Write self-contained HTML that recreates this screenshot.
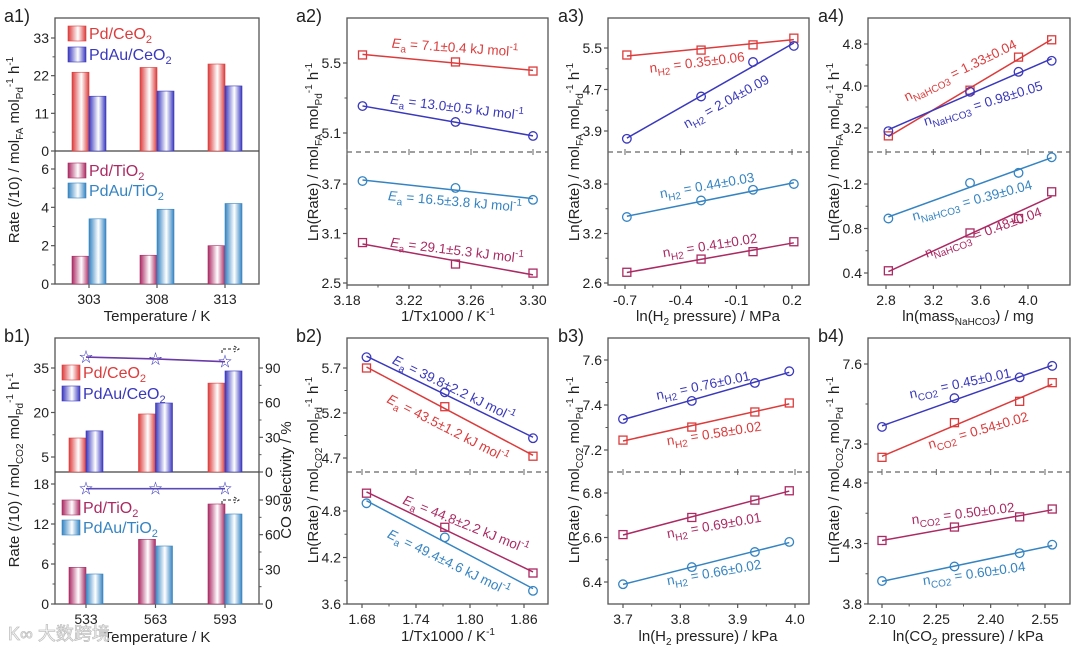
<!DOCTYPE html>
<html><head><meta charset="utf-8">
<style>
html,body{margin:0;padding:0;background:#fff;}
svg{display:block;font-family:"Liberation Sans","Noto Sans CJK SC",sans-serif;}
</style></head>
<body>
<svg id="fig" width="1080" height="650" viewBox="0 0 1080 650"></svg>
<script>
// ---------- data ----------
const a1Temps=['303','308','313'];
const a1PdCe=[23.0,24.4,25.4];
const a1PdAuCe=[16.0,17.5,19.0];
const a1PdTi=[1.45,1.5,2.0];
const a1PdAuTi=[3.4,3.9,4.2];
const b1Temps=['533','563','593'];
const b1PdCe=[11.4,19.5,29.9];
const b1PdAuCe=[13.8,23.2,34.0];
const b1PdTi=[5.5,9.7,15.0];
const b1PdAuTi=[4.5,8.7,13.5];
const b1SelCe=[99.5,97.8,95.5];
const b1SelTi=[99.8,99.8,99.8];

const a2X=[3.19,3.25,3.30];
const a2Red=[5.546,5.506,5.454];
const a2Blue=[5.254,5.163,5.083];
const a2Cyan=[3.736,3.652,3.508];
const a2Purple=[2.99,2.73,2.62];
const a3X=[-0.69,-0.29,-0.01,0.21];
const a3Red=[5.365,5.46,5.56,5.69];
const a3Blue=[3.75,4.565,5.23,5.54];
const a3Cyan=[3.40,3.60,3.73,3.80];
const a3Purple=[2.73,2.89,2.98,3.10];
const a4X=[2.82,3.51,3.92,4.20];
const a4Red=[3.05,3.92,4.55,4.88];
const a4Blue=[3.14,3.89,4.27,4.48];
const a4Cyan=[0.89,1.21,1.30,1.44];
const a4Purple=[0.42,0.76,0.89,1.13];
const b2X=[1.685,1.772,1.870];
const b2Blue=[5.82,5.43,4.92];
const b2Red=[5.70,5.27,4.72];
const b2Purple=[5.03,4.59,4.00];
const b2Cyan=[4.90,4.46,3.77];
const b3X=[3.70,3.82,3.93,3.99];
const b3Blue=[7.338,7.418,7.498,7.55];
const b3Red=[7.244,7.302,7.369,7.409];
const b3Purple=[6.613,6.69,6.768,6.81];
const b3Cyan=[6.39,6.467,6.535,6.58];
const b4X=[2.10,2.30,2.48,2.57];
const b4Blue=[7.364,7.472,7.55,7.593];
const b4Red=[7.25,7.38,7.46,7.53];
const b4Purple=[4.325,4.436,4.52,4.585];
const b4Cyan=[3.99,4.11,4.22,4.29];

const a2XTicks=[3.18,3.22,3.26,3.30], a2TopTicks=[5.1,5.5], a2BotTicks=[2.5,3.1,3.7];
const a3XTicks=[-0.7,-0.4,-0.1,0.2], a3TopTicks=[3.9,4.7,5.5], a3BotTicks=[2.6,3.2,3.8];
const a4XTicks=[2.8,3.2,3.6,4.0], a4TopTicks=[3.2,4.0,4.8], a4BotTicks=[0.4,0.8,1.2];
const b2XTicks=[1.68,1.74,1.80,1.86], b2TopTicks=[4.7,5.2,5.7], b2BotTicks=[3.6,4.2,4.8];
const b3XTicks=[3.7,3.8,3.9,4.0], b3TopTicks=[7.2,7.4,7.6], b3BotTicks=[6.4,6.6,6.8];
const b4XTicks=[2.10,2.25,2.40,2.55], b4TopTicks=[7.3,7.6], b4BotTicks=[3.8,4.3,4.8];

const RED='#dc3b3b',BLUE='#3a38bd',PURP='#ab2a63',CYAN='#3584c2';
const NS='http://www.w3.org/2000/svg';
const svg=document.getElementById('fig');
function mk(tag,attrs,parent){const e=document.createElementNS(NS,tag);for(const k in attrs)e.setAttribute(k,attrs[k]);(parent||svg).appendChild(e);return e;}
function lin(v0,p0,v1,p1){return v=>p0+(v-v0)*(p1-p0)/(v1-v0);}
function fmt(v,d){return (v<0?'-':'')+Math.abs(v).toFixed(d);}

const defs=mk('defs',{});
[['gRed',RED],['gBlue',BLUE],['gPurp',PURP],['gCyan',CYAN]].forEach(([id,c])=>{
  const g=mk('linearGradient',{id:id,x1:0,y1:0,x2:1,y2:0},defs);
  mk('stop',{offset:0,'stop-color':c},g);
  mk('stop',{offset:0.55,'stop-color':'#ffffff'},g);
  mk('stop',{offset:1,'stop-color':c},g);
});

function txt(x,y,html,size,anchor,name,extra){
  const t=mk('text',Object.assign({x:x,y:y,'font-size':size,'text-anchor':anchor||'start',fill:'#222'},extra||{}));
  t.innerHTML=html;
  
  
  return t;
}
function frame(p,name,dashed){
  const r=mk('rect',{x:p.l,y:p.t,width:p.r-p.l,height:p.b-p.t,fill:'none',stroke:'#555','stroke-width':1.3});
  
  
  const d=mk('line',{x1:p.l,x2:p.r,y1:p.div,y2:p.div,stroke:dashed?'#666':'#444','stroke-width':1.2,'stroke-dasharray':dashed?'5,4':'none'});
  
  
}
function yTicks(p,ticks,sc,dec,name,side){
  const x=side==='r'?p.r:p.l, dir=side==='r'?1:-1;
  ticks.forEach((v,i)=>{
    const y=sc(v);
    mk('line',{x1:x,x2:x+dir*4,y1:y,y2:y,stroke:'#555','stroke-width':1.2});
    if(i<ticks.length-1){const ym=sc((v+ticks[i+1])/2);mk('line',{x1:x,x2:x+dir*2.5,y1:ym,y2:ym,stroke:'#555','stroke-width':1});}
    txt(x+dir*6,y+5,fmt(v,dec),14,side==='r'?'start':'end',name+'-tick-label');
  });
}
function xTicks(p,ticks,sc,dec,name,base){
  ticks.forEach((v,i)=>{
    const x=sc(v);
    mk('line',{x1:x,x2:x,y1:p.b,y2:p.b+4,stroke:'#555','stroke-width':1.2});
    mk('line',{x1:x,x2:x,y1:p.div-3,y2:p.div+3,stroke:'#666','stroke-width':1});
    if(i<ticks.length-1){const xm=sc((v+ticks[i+1])/2);mk('line',{x1:xm,x2:xm,y1:p.b,y2:p.b+2.5,stroke:'#555','stroke-width':1});}
    txt(x,base,fmt(v,dec),14,'middle',name+'-x-tick-label');
  });
}
function series(xs,ys,sx,sy,color,marker,name){
  const n=xs.length;let mx=0,my=0;xs.forEach((x,i)=>{mx+=x;my+=ys[i];});mx/=n;my/=n;
  let sxy=0,sxx=0;xs.forEach((x,i)=>{sxy+=(x-mx)*(ys[i]-my);sxx+=(x-mx)*(x-mx);});
  const k=sxy/sxx,b=my-k*mx;const x0=xs[0],x1=xs[n-1];
  const l=mk('line',{x1:sx(x0),y1:sy(k*x0+b),x2:sx(x1),y2:sy(k*x1+b),stroke:color,'stroke-width':1.5});
  
  
  xs.forEach((x,i)=>{
    let m;
    if(marker==='s') m=mk('rect',{x:sx(x)-4,y:sy(ys[i])-4,width:8,height:8,fill:'none',stroke:color,'stroke-width':1.3});
    else m=mk('circle',{cx:sx(x),cy:sy(ys[i]),r:4.3,fill:'none',stroke:color,'stroke-width':1.3});
    
    
  });
}
function yTitle(x,cy,s1,name,pre){
  return txt(x,cy,`${pre||'Ln(Rate)'} / mol<tspan font-size="10" dy="4">${s1}</tspan><tspan dy="-4"> mol</tspan><tspan font-size="10" dy="4">Pd</tspan><tspan font-size="10" dy="-10">-1</tspan><tspan dy="6"> h</tspan><tspan font-size="10" dy="-6">-1</tspan>`,15,'middle',name,{transform:`rotate(-90 ${x} ${cy})`});
}
// x,y = visual centre of text
function ann(x,y,ang,html,color,name){
  txt(x,y+5,html,13.5,'middle',name,{fill:color,transform:`rotate(${ang} ${x} ${y})`});
}
const EA=(v)=>`<tspan font-style="italic">E</tspan><tspan font-size="10" dy="4">a</tspan><tspan dy="-4"> = ${v} kJ mol</tspan><tspan font-size="10" dy="-6">-1</tspan>`;
const NN=(s,v)=>`n<tspan font-size="10" dy="4">${s}</tspan><tspan dy="-4"> = ${v}</tspan>`;

function linePanel(cfg){
  const p=cfg.p;
  frame(p,cfg.name,true);
  yTicks(p,cfg.topTicks,cfg.syT,cfg.yDec,cfg.name+'-top-y');
  yTicks(p,cfg.botTicks,cfg.syB,cfg.yDec,cfg.name+'-bottom-y');
  xTicks(p,cfg.xTicks,cfg.sx,cfg.xDec,cfg.name,p.b+20);
  cfg.series.forEach(s=>series(cfg.x,s.y,cfg.sx,s.top?cfg.syT:cfg.syB,s.c,s.m,cfg.name+'-'+s.n));
}
const pA={t:18,b:285,div:152}, pB={t:338,b:604,div:472};
linePanel({name:'a2',p:Object.assign({l:347,r:548},pA),x:a2X,sx:lin(3.18,347,3.30,533),syT:lin(5.1,133,5.5,63),syB:lin(2.5,283,3.7,184),
  xTicks:a2XTicks,xDec:2,topTicks:a2TopTicks,botTicks:a2BotTicks,yDec:1,
  series:[{y:a2Red,top:1,c:RED,m:'s',n:'pd-ceo2'},{y:a2Blue,top:1,c:BLUE,m:'o',n:'pdau-ceo2'},{y:a2Cyan,c:CYAN,m:'o',n:'pdau-tio2'},{y:a2Purple,c:PURP,m:'s',n:'pd-tio2'}]});
linePanel({name:'a3',p:Object.assign({l:608,r:809},pA),x:a3X,sx:lin(-0.7,625,0.2,792),syT:lin(3.9,131,5.5,48),syB:lin(2.6,283,3.8,184),
  xTicks:a3XTicks,xDec:1,topTicks:a3TopTicks,botTicks:a3BotTicks,yDec:1,
  series:[{y:a3Red,top:1,c:RED,m:'s',n:'pd-ceo2'},{y:a3Blue,top:1,c:BLUE,m:'o',n:'pdau-ceo2'},{y:a3Cyan,c:CYAN,m:'o',n:'pdau-tio2'},{y:a3Purple,c:PURP,m:'s',n:'pd-tio2'}]});
linePanel({name:'a4',p:Object.assign({l:868,r:1070},pA),x:a4X,sx:lin(2.8,886,4.0,1028),syT:lin(3.2,128,4.8,44),syB:lin(0.4,273,1.2,184),
  xTicks:a4XTicks,xDec:1,topTicks:a4TopTicks,botTicks:a4BotTicks,yDec:1,
  series:[{y:a4Red,top:1,c:RED,m:'s',n:'pd-ceo2'},{y:a4Blue,top:1,c:BLUE,m:'o',n:'pdau-ceo2'},{y:a4Cyan,c:CYAN,m:'o',n:'pdau-tio2'},{y:a4Purple,c:PURP,m:'s',n:'pd-tio2'}]});
linePanel({name:'b2',p:Object.assign({l:347,r:548},pB),x:b2X,sx:lin(1.68,362,1.86,524),syT:lin(4.7,458,5.7,368),syB:lin(3.6,604,4.8,511),
  xTicks:b2XTicks,xDec:2,topTicks:b2TopTicks,botTicks:b2BotTicks,yDec:1,
  series:[{y:b2Red,top:1,c:RED,m:'s',n:'pd-ceo2'},{y:b2Blue,top:1,c:BLUE,m:'o',n:'pdau-ceo2'},{y:b2Cyan,c:CYAN,m:'o',n:'pdau-tio2'},{y:b2Purple,c:PURP,m:'s',n:'pd-tio2'}]});
linePanel({name:'b3',p:Object.assign({l:608,r:809},pB),x:b3X,sx:lin(3.7,623,4.0,795),syT:lin(7.2,450,7.6,360),syB:lin(6.4,582,6.8,493),
  xTicks:b3XTicks,xDec:1,topTicks:b3TopTicks,botTicks:b3BotTicks,yDec:1,
  series:[{y:b3Red,top:1,c:RED,m:'s',n:'pd-ceo2'},{y:b3Blue,top:1,c:BLUE,m:'o',n:'pdau-ceo2'},{y:b3Cyan,c:CYAN,m:'o',n:'pdau-tio2'},{y:b3Purple,c:PURP,m:'s',n:'pd-tio2'}]});
linePanel({name:'b4',p:Object.assign({l:868,r:1070},pB),x:b4X,sx:lin(2.10,882,2.55,1045),syT:lin(7.3,444,7.6,364),syB:lin(3.8,604,4.8,483),
  xTicks:b4XTicks,xDec:2,topTicks:b4TopTicks,botTicks:b4BotTicks,yDec:1,
  series:[{y:b4Red,top:1,c:RED,m:'s',n:'pd-ceo2'},{y:b4Blue,top:1,c:BLUE,m:'o',n:'pdau-ceo2'},{y:b4Cyan,c:CYAN,m:'o',n:'pdau-tio2'},{y:b4Purple,c:PURP,m:'s',n:'pd-tio2'}]});

// annotations (visual centres)
ann(455,47,4,EA('7.1±0.4'),RED,'a2-ea-pd-ceo2');
ann(457,107,7,EA('13.0±0.5'),BLUE,'a2-ea-pdau-ceo2');
ann(455,201,5,EA('16.5±3.8'),CYAN,'a2-ea-pdau-tio2');
ann(457,250,7,EA('29.1±5.3'),PURP,'a2-ea-pd-tio2');
ann(697,62,-7,NN('H2','0.35±0.06'),RED,'a3-n-pd-ceo2');
ann(726,101,-29,NN('H2','2.04±0.09'),BLUE,'a3-n-pdau-ceo2');
ann(707,185,-10,NN('H2','0.44±0.03'),CYAN,'a3-n-pdau-tio2');
ann(710,245,-9,NN('H2','0.41±0.02'),PURP,'a3-n-pd-tio2');
ann(960,70,-26,NN('NaHCO3','1.33±0.04'),RED,'a4-n-pd-ceo2');
ann(983,103,-17,NN('NaHCO3','0.98±0.05'),BLUE,'a4-n-pdau-ceo2');
ann(972,200,-15,NN('NaHCO3','0.39±0.04'),CYAN,'a4-n-pdau-tio2');
ann(983,232,-20,NN('NaHCO3','0.48±0.04'),PURP,'a4-n-pd-tio2');
ann(454,388,26,EA('39.8±2.2'),BLUE,'b2-ea-pdau-ceo2');
ann(448,428,27,EA('43.5±1.2'),RED,'b2-ea-pd-ceo2');
ann(466,524,22,EA('44.8±2.2'),PURP,'b2-ea-pd-tio2');
ann(449,562,26,EA('49.4±4.6'),CYAN,'b2-ea-pdau-tio2');
ann(703,385,-12,NN('H2','0.76±0.01'),BLUE,'b3-n-pdau-ceo2');
ann(714,433,-9,NN('H2','0.58±0.02'),RED,'b3-n-pd-ceo2');
ann(714,525,-10,NN('H2','0.69±0.01'),PURP,'b3-n-pd-tio2');
ann(714,572,-10,NN('H2','0.66±0.02'),CYAN,'b3-n-pdau-tio2');
ann(960,383,-12,NN('CO2','0.45±0.01'),BLUE,'b4-n-pdau-ceo2');
ann(978,430,-16,NN('CO2','0.54±0.02'),RED,'b4-n-pd-ceo2');
ann(963,513,-7,NN('CO2','0.50±0.02'),PURP,'b4-n-pd-tio2');
ann(974,573,-8,NN('CO2','0.60±0.04'),CYAN,'b4-n-pdau-tio2');

// ---------- bar panels ----------
function barPanel(cfg){
  const p=cfg.p;
  frame(p,cfg.name,false);
  yTicks(p,cfg.topTicks,cfg.syT,0,cfg.name+'-top-y');
  yTicks(p,cfg.botTicks,cfg.syB,0,cfg.name+'-bottom-y');
  cfg.cats.forEach((c,i)=>{
    const x=cfg.cx[0]+i*(cfg.cx[1]-cfg.cx[0])/(cfg.cats.length-1);
    mk('line',{x1:x,x2:x,y1:p.b,y2:p.b+4,stroke:'#555','stroke-width':1.2});
    txt(x,p.b+20,c,14,'middle',cfg.name+'-x-tick-label');
    const bars=[[cfg.v1[i],cfg.syT,'gRed',RED,-17,'pd-ceo2'],[cfg.v2[i],cfg.syT,'gBlue',BLUE,0,'pdau-ceo2'],
                [cfg.v3[i],cfg.syB,'gPurp',PURP,-17,'pd-tio2'],[cfg.v4[i],cfg.syB,'gCyan',CYAN,0,'pdau-tio2']];
    bars.forEach(([v,sy,g,col,off,n])=>{
      const y=sy(v),y0=sy===cfg.syT?p.div:p.b;
      const r=mk('rect',{x:x+off,y:y,width:17,height:y0-y,fill:`url(#${g})`,stroke:col,'stroke-width':0.6});
      
      
    });
  });
  cfg.legend.forEach(([y,g,col,label,n])=>{
    const r=mk('rect',{x:cfg.lx,y:y-7,width:18,height:15,fill:`url(#${g})`,stroke:col,'stroke-width':0.6});
    
    
    txt(cfg.lx+21,y+6,label,16,'start',cfg.name+'-legend-'+n,{fill:col});
  });
}
const CE='Pd/CeO<tspan font-size="11" dy="4">2</tspan>', ACE='PdAu/CeO<tspan font-size="11" dy="4">2</tspan>';
const TI='Pd/TiO<tspan font-size="11" dy="4">2</tspan>', ATI='PdAu/TiO<tspan font-size="11" dy="4">2</tspan>';
barPanel({name:'a1',p:{l:55,r:259,t:18,b:284,div:151},cats:a1Temps,cx:[89,225],
  syT:lin(0,151,33,38),syB:lin(0,284,6,169),topTicks:[0,11,22,33],botTicks:[0,2,4,6],
  v1:a1PdCe,v2:a1PdAuCe,v3:a1PdTi,v4:a1PdAuTi,lx:68,
  legend:[[33,'gRed',RED,CE,'pd-ceo2'],[54,'gBlue',BLUE,ACE,'pdau-ceo2'],[170,'gPurp',PURP,TI,'pd-tio2'],[190,'gCyan',CYAN,ATI,'pdau-tio2']]});
barPanel({name:'b1',p:{l:55,r:259,t:338,b:604,div:472},cats:b1Temps,cx:[86,225],
  syT:lin(5,457,35,368),syB:lin(0,604,18,484),topTicks:[5,20,35],botTicks:[0,6,12,18],
  v1:b1PdCe,v2:b1PdAuCe,v3:b1PdTi,v4:b1PdAuTi,lx:62,
  legend:[[372,'gRed',RED,CE,'pd-ceo2'],[393,'gBlue',BLUE,ACE,'pdau-ceo2'],[507,'gPurp',PURP,TI,'pd-tio2'],[527,'gCyan',CYAN,ATI,'pdau-tio2']]});
const pb1={l:55,r:259,t:338,b:604,div:472};
const selT=lin(0,472,90,368), selB=lin(0,604,90,500);
yTicks(pb1,[0,30,60,90],selT,0,'b1-right-top-y','r');
yTicks(pb1,[0,30,60,90],selB,0,'b1-right-bottom-y','r');
function selLine(vals,sy,col,name){
  const xs=vals.map((v,i)=>86+i*(225-86)/(vals.length-1));
  const pl=mk('polyline',{points:xs.map((x,i)=>x+','+sy(vals[i])).join(' '),fill:'none',stroke:col,'stroke-width':1.6});
  
  
  xs.forEach((x,i)=>{txt(x,sy(vals[i])+5,'☆',14,'middle',name+'-star',{fill:BLUE});});
}
selLine(b1SelCe,selT,'#6a3aa8','b1-co-selectivity-ceo2');
selLine(b1SelTi,selB,'#5a4ab8','b1-co-selectivity-tio2');
[[349,'b1-arrow-top'],[500,'b1-arrow-bottom']].forEach(([y,n])=>{
  const a=mk('path',{d:`M222 ${y+4} L222 ${y} L238 ${y} M234 ${y-3} L239 ${y} L234 ${y+3}`,fill:'none',stroke:'#222','stroke-width':1,'stroke-dasharray':'3,2'});
  
  
});

// ---------- titles ----------
yTitle(19,150,'FA','a1-y-axis-title','Rate (/10)');
yTitle(19,470,'CO2','b1-y-axis-title','Rate (/10)');
txt(291,480,'CO selectivity / %',15,'middle','b1-right-y-axis-title',{transform:'rotate(-90 291 480)'});
yTitle(318,152,'FA','a2-y-axis-title');
yTitle(579,152,'FA','a3-y-axis-title');
yTitle(839,152,'FA','a4-y-axis-title');
yTitle(318,470,'CO2','b2-y-axis-title');
yTitle(579,470,'CO2','b3-y-axis-title');
yTitle(839,470,'CO2','b4-y-axis-title');
txt(157,321,'Temperature / K',15,'middle','a1-x-axis-title');
txt(157,642,'Temperature / K',15,'middle','b1-x-axis-title');
txt(448,321,'1/Tx1000 / K<tspan font-size="10" dy="-6">-1</tspan>',15,'middle','a2-x-axis-title');
txt(448,641,'1/Tx1000 / K<tspan font-size="10" dy="-6">-1</tspan>',15,'middle','b2-x-axis-title');
txt(708,321,'ln(H<tspan font-size="10" dy="4">2</tspan><tspan dy="-4"> pressure) / MPa</tspan>',15,'middle','a3-x-axis-title');
txt(708,641,'ln(H<tspan font-size="10" dy="4">2</tspan><tspan dy="-4"> pressure) / kPa</tspan>',15,'middle','b3-x-axis-title');
txt(968,321,'ln(mass<tspan font-size="10" dy="4">NaHCO3</tspan><tspan dy="-4">) / mg</tspan>',15,'middle','a4-x-axis-title');
txt(968,641,'ln(CO<tspan font-size="10" dy="4">2</tspan><tspan dy="-4"> pressure) / kPa</tspan>',15,'middle','b4-x-axis-title');
[['a1)',4,22],['a2)',296,22],['a3)',558,22],['a4)',818,22],['b1)',4,342],['b2)',296,342],['b3)',558,342],['b4)',818,342]].forEach(([s,x,y])=>{
  txt(x,y,s,18,'start','panel-label-'+s.replace(')',''));
});
txt(8,640,'K∞ 大数跨境',18,'start','watermark',{fill:'#fff',stroke:'#bbb','stroke-width':0.8,opacity:0.9});
</script>
</body></html>
